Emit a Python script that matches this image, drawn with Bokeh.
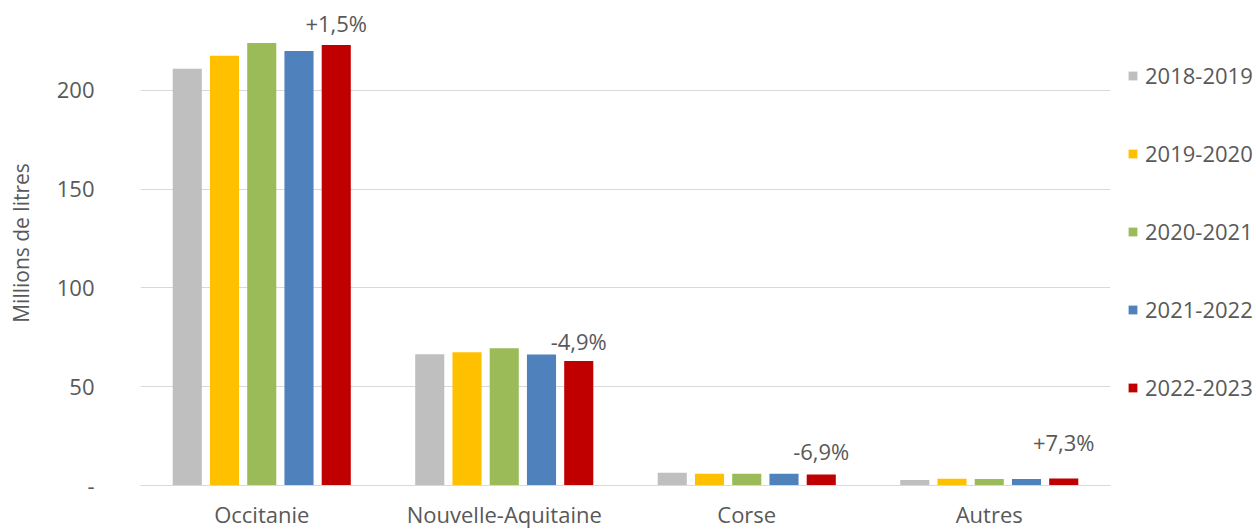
from bokeh.plotting import figure
from bokeh.models import ColumnDataSource, FixedTicker, Legend, LegendItem
from bokeh.transform import dodge
from bokeh.core.properties import value
from bokeh.embed import file_html
from bokeh.resources import INLINE

categories = ["Occitanie", "Nouvelle-Aquitaine", "Corse", "Autres"]
seasons = ["2018-2019", "2019-2020", "2020-2021", "2021-2022", "2022-2023"]
v_2018_2019 = [211.0, 66.5, 6.4, 2.8]
v_2019_2020 = [217.5, 67.5, 5.9, 3.4]
v_2020_2021 = [224.0, 69.5, 5.9, 3.3]
v_2021_2022 = [220.0, 66.3, 6.0, 3.3]
v_2022_2023 = [223.0, 63.0, 5.6, 3.5]
pct_labels = ["+1,5%", "-4,9%", "-6,9%", "+7,3%"]
y_ticks = [0, 50, 100, 150, 200]
y_tick_labels = {0: "-", 50: "50", 100: "100", 150: "150", 200: "200"}

series = [v_2018_2019, v_2019_2020, v_2020_2021, v_2021_2022, v_2022_2023]
colors = ["#BFBFBF", "#FFC000", "#9BBB59", "#4F81BD", "#C00000"]
offsets = [-0.3072, -0.1536, 0.0, 0.1536, 0.3072]
label_offsets = [-22, -20, -23, -37]

FONT = "Open Sans"
TXT = "#595959"

data = {"cat": categories, "pct": pct_labels, "yoff": label_offsets}
for s, vals in zip(seasons, series):
    data[s] = vals
src = ColumnDataSource(data)

p = figure(x_range=categories, y_range=(0, 245.5), frame_width=970, frame_height=485,
           output_backend="svg", toolbar_location=None,
           min_border_left=140, min_border_right=146, min_border_top=0,
           min_border_bottom=38)
p.outline_line_color = None
p.background_fill_color = "white"
p.border_fill_color = "white"

items = []
for s, c, off in zip(seasons, colors, offsets):
    r = p.vbar(x=dodge("cat", off, range=p.x_range), top=s, width=0.12,
               source=src, fill_color=c, line_color=None)
    items.append(LegendItem(label=s, renderers=[r]))

p.text(x=dodge("cat", offsets[-1], range=p.x_range), y=seasons[-1], text="pct",
       source=src, text_align="center", text_baseline="alphabetic", y_offset="yoff",
       text_font=value(FONT), text_font_size="22px", text_color=TXT)

p.xgrid.grid_line_color = None
p.ygrid.grid_line_color = "#D9D9D9"
p.ygrid.grid_line_width = 1
p.yaxis.ticker = FixedTicker(ticks=y_ticks)
p.yaxis.major_label_overrides = y_tick_labels
p.yaxis.axis_line_color = None
p.yaxis.major_tick_line_color = None
p.yaxis.minor_tick_line_color = None
p.yaxis.major_label_standoff = 40
p.yaxis.major_label_text_font = FONT
p.yaxis.major_label_text_font_size = "22px"
p.yaxis.major_label_text_color = TXT
p.yaxis.axis_label = "Millions de litres"
p.yaxis.axis_label_text_font = FONT
p.yaxis.axis_label_text_font_style = "normal"
p.yaxis.axis_label_text_font_size = "21px"
p.yaxis.axis_label_text_color = TXT
p.yaxis.axis_label_standoff = 19

p.xaxis.axis_line_color = "#D9D9D9"
p.xaxis.major_tick_line_color = None
p.xaxis.minor_tick_line_color = None
p.xaxis.major_label_standoff = 7
p.xaxis.major_label_text_font = FONT
p.xaxis.major_label_text_font_size = "22px"
p.xaxis.major_label_text_color = TXT

legend = Legend(items=items, location="top_left", orientation="vertical",
                title=" ", title_text_font_size="20px", title_standoff=20,
                border_line_color=None, background_fill_alpha=0,
                label_text_font=FONT, label_text_font_size="22px",
                label_text_color=TXT, glyph_width=11, glyph_height=11,
                label_height=22, spacing=48, padding=20, margin=17,
                label_standoff=7)
p.add_layout(legend, "right")

open("out.html", "w").write(file_html(p, INLINE))
